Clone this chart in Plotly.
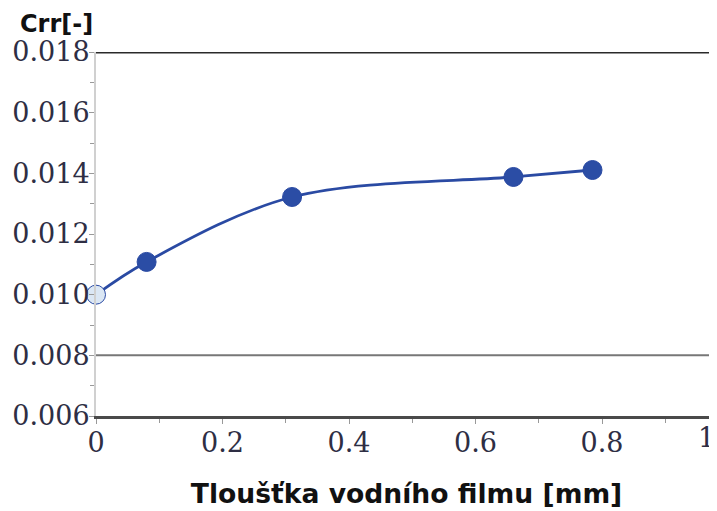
import plotly.graph_objects as go

# Data
film_mm = [0.0, 0.08, 0.31, 0.66, 0.785]
crr = [0.0100, 0.01108, 0.01322, 0.01388, 0.01411]
marker_fill = ["#dbe7f4", "#2b4da5", "#2b4da5", "#2b4da5", "#2b4da5"]

x_ticks = [0, 0.2, 0.4, 0.6, 0.8, 1]
x_tick_text = ["0", "0.2", "0.4", "0.6", "0.8", "1"]
y_ticks = [0.006, 0.008, 0.010, 0.012, 0.014, 0.016, 0.018]
y_tick_text = ["0.006", "0.008", "0.010", "0.012", "0.014", "0.016", "0.018"]
dark_lines = [0.018]
gray_lines = [0.008]

BLUE = "#2a4aa3"
TICKFONT = dict(family="DejaVu Serif", size=27, color="#2e2e44")

fig = go.Figure()
fig.add_trace(go.Scatter(
    x=film_mm, y=crr, mode="lines+markers",
    line=dict(color=BLUE, width=2.8, shape="spline", smoothing=1.0),
    marker=dict(size=19, color=marker_fill, line=dict(color=BLUE, width=1)),
    cliponaxis=False, showlegend=False,
))

xmax = (717 - 96) / ((602 - 96) / 0.8)

fig.update_layout(
    width=709, height=503,
    margin=dict(l=88, r=0, t=44, b=95),
    paper_bgcolor="white", plot_bgcolor="white",
    xaxis=dict(
        range=[0, xmax], tickvals=x_ticks, ticktext=x_tick_text,
        showgrid=False, zeroline=False,
        showline=True, linecolor="#4a4a4a", linewidth=3,
        ticks="outside", ticklen=5, tickcolor="#999999", tickwidth=1,
        minor=dict(dtick=0.1, ticks="outside", ticklen=4, tickcolor="#999999"),
        tickfont=TICKFONT, ticklabelstandoff=-4,
        title=dict(text="Tloušťka vodního filmu [mm]",
                   font=dict(family="DejaVu Sans", size=26.6, color="#111111", weight="bold"),
                   standoff=27),
    ),
    yaxis=dict(
        range=[y_ticks[0], y_ticks[-1]], tickvals=y_ticks, ticktext=y_tick_text,
        showgrid=False, zeroline=False,
        showline=True, linecolor="#d0d0d0", linewidth=2,
        ticks="outside", ticklen=5, tickcolor="#999999", tickwidth=1,
        minor=dict(dtick=0.001, ticks="outside", ticklen=4, tickcolor="#999999"),
        tickfont=TICKFONT, ticklabelstandoff=-6,
    ),
)

for yv in dark_lines:
    fig.add_shape(type="line", xref="paper", x0=0, x1=1, yref="y", y0=yv, y1=yv,
                  line=dict(color="#2a2a2a", width=3), layer="below")
for yv in gray_lines:
    fig.add_shape(type="line", xref="paper", x0=0, x1=1, yref="y", y0=yv, y1=yv,
                  line=dict(color="#777777", width=2), layer="below")

# last x tick label (lies just past the visible plot edge, partly cut off)
fig.add_annotation(x=x_ticks[-1] / xmax, xref="paper", y=0, yref="paper",
                   yanchor="top", yshift=-4, xshift=-12,
                   text=x_tick_text[-1], showarrow=False, font=TICKFONT)

fig.add_annotation(x=0, xref="paper", xanchor="left", xshift=-78,
                   y=1, yref="paper", yanchor="bottom", yshift=12,
                   text="<b>Crr[-]</b>", showarrow=False,
                   font=dict(family="DejaVu Sans", size=24, color="#111111"))

fig.write_html("out.html")
